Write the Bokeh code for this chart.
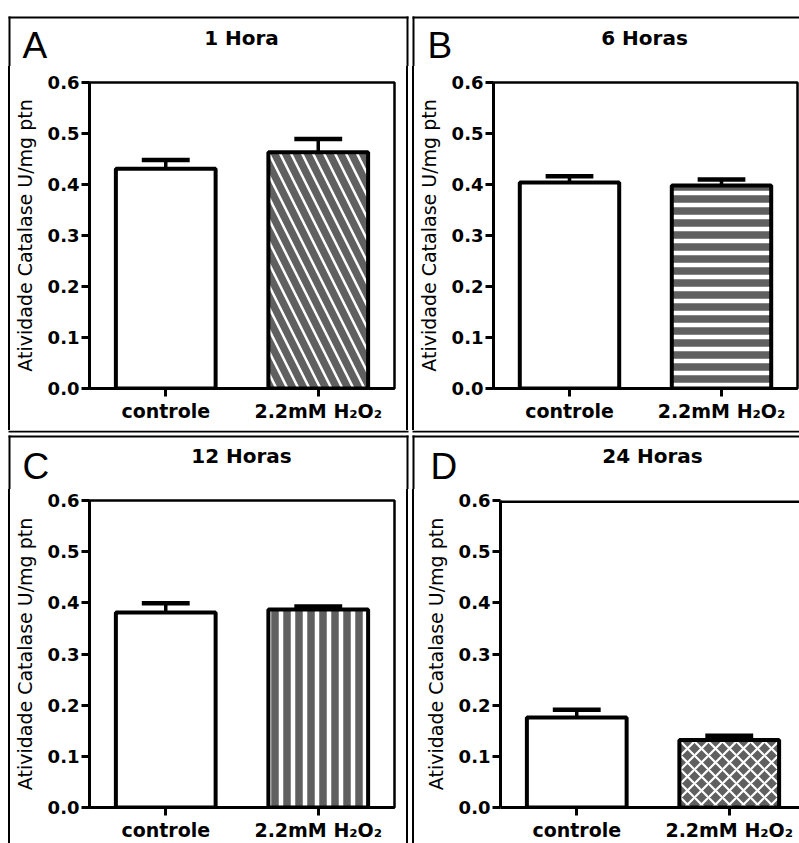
from bokeh.plotting import figure
from bokeh.models import Range1d, FixedTicker, Span, ColumnDataSource, Spacer
from bokeh.layouts import row, column
from bokeh.core.properties import value
from bokeh.embed import file_html
from bokeh.resources import INLINE

# ---- data -------------------------------------------------------------
categories = ["controle", "2.2mM H\u2082O\u2082"]
cat_pos = [1, 2]
panel_letters = ["A", "B", "C", "D"]
panel_titles = ["1 Hora", "6 Horas", "12 Horas", "24 Horas"]
mean_1h = [0.431, 0.463]
sem_1h = [0.017, 0.026]
mean_6h = [0.404, 0.398]
sem_6h = [0.012, 0.012]
mean_12h = [0.381, 0.387]
sem_12h = [0.018, 0.006]
mean_24h = [0.176, 0.132]
sem_24h = [0.015, 0.008]
y_ticks = [0.0, 0.1, 0.2, 0.3, 0.4, 0.5, 0.6]
y_label = "Atividade Catalase U/mg ptn"
hatches = ["\\", "-", "|", "x"]

FONT = "DejaVu Sans"
BAR_W = 0.654
CAP_W = 0.314
TOTAL_W = 799


def chart(means, sems, hatch, W, H, mb, x_end, outline=True):
    p = figure(width=W, height=H, output_backend="svg", toolbar_location=None,
               x_range=Range1d(0.5, x_end), y_range=Range1d(0, 0.6),
               min_border_left=mb[0], min_border_right=mb[1],
               min_border_top=mb[2], min_border_bottom=mb[3],
               background_fill_color="white", border_fill_color="white")
    p.xgrid.visible = False
    p.ygrid.visible = False
    if outline:
        p.outline_line_color = "black"
        p.outline_line_width = 2.5
        p.outline_line_alpha = 1.0
    else:
        p.outline_line_color = None
        p.add_layout(Span(location=0.6, dimension="width", line_color="black",
                          line_width=5))

    hs = {"\\": (22, 2.5), "-": (12, 4.5), "|": (12, 4.5), "x": (14, 2.2)}[hatch]
    src = ColumnDataSource(dict(x=cat_pos, top=means, fill=["white", "#606060"],
                                pat=[" ", hatch]))
    p.vbar(x="x", top="top", bottom=0, width=BAR_W, source=src,
           fill_color="fill", line_color="black", line_width=4,
           hatch_pattern="pat", hatch_color="white",
           hatch_scale=hs[0], hatch_weight=hs[1])

    tops = [m + s for m, s in zip(means, sems)]
    esrc = ColumnDataSource(dict(x=cat_pos, y0=means, y1=tops,
                                 xl=[c - CAP_W / 2 for c in cat_pos],
                                 xr=[c + CAP_W / 2 for c in cat_pos]))
    p.segment(x0="x", y0="y0", x1="x", y1="y1", source=esrc,
              line_color="black", line_width=3.5)
    p.segment(x0="xl", y0="y1", x1="xr", y1="y1", source=esrc,
              line_color="black", line_width=4.5)

    for ax in (p.xaxis[0], p.yaxis[0]):
        ax.axis_line_width = 3
        ax.axis_line_color = "black"
        ax.major_tick_line_width = 3
        ax.major_tick_line_color = "black"
        ax.major_tick_out = 8
        ax.major_tick_in = 0
        ax.minor_tick_line_color = None
        ax.major_label_text_font = FONT
        ax.major_label_text_font_style = "bold"
        ax.major_label_text_color = "black"

    p.yaxis.ticker = FixedTicker(ticks=y_ticks)
    p.yaxis.major_label_overrides = {t: f"{t:.1f}" for t in y_ticks}
    p.yaxis.major_label_text_font_size = "18px"
    p.yaxis.major_label_standoff = 2
    p.yaxis.axis_label = y_label
    p.yaxis.axis_label_text_font = FONT
    p.yaxis.axis_label_text_font_style = "normal"
    p.yaxis.axis_label_text_font_size = "19px"
    p.yaxis.axis_label_text_color = "black"
    p.yaxis.axis_label_standoff = 9

    p.xaxis.ticker = FixedTicker(ticks=cat_pos)
    p.xaxis.major_label_overrides = {c: n for c, n in zip(cat_pos, categories)}
    p.xaxis.major_label_text_font_size = "19px"
    p.xaxis.major_label_standoff = 3
    return p


def strip(W, H, boxes, letters, letter_pos, titles, title_pos):
    s = figure(width=W, height=H, output_backend="svg", toolbar_location=None,
               x_range=Range1d(0, W), y_range=Range1d(H, 0),
               x_axis_location=None, y_axis_location=None, min_border=0,
               outline_line_color=None, background_fill_color="white",
               border_fill_color="white")
    s.xgrid.visible = False
    s.ygrid.visible = False
    l, r, t, b = zip(*boxes)
    s.quad(left=list(l), right=list(r), top=list(t), bottom=list(b),
           fill_color="black", line_color=None)
    s.text(x=[q[0] for q in letter_pos], y=[q[1] for q in letter_pos], text=letters,
           text_font=value("Liberation Sans"), text_font_size=value("37px"),
           text_align="left", text_baseline="alphabetic", text_color="black")
    s.text(x=[q[0] for q in title_pos], y=[q[1] for q in title_pos], text=titles,
           text_font=value(FONT), text_font_style="bold", text_font_size=value("20px"),
           text_align="center", text_baseline="alphabetic", text_color="black")
    return s


def vline(H):
    return Spacer(width=2, height=H, styles={"background-color": "black"})


def gap(w, H):
    return Spacer(width=w, height=H)


# ---- layout geometry (pixels) -----------------------------------------
H1, H2 = 364, 354          # chart rows
S1, S2 = 66, 59            # strips above each row
WL, WR = 396, 385          # chart widths left / right column

pA = chart(mean_1h, sem_1h, hatches[0], WL, H1, (78, 12, 16, 42), 2.5)
pB = chart(mean_6h, sem_6h, hatches[1], WR, H1, (77, 2, 16, 42), 2.5)
pC = chart(mean_12h, sem_12h, hatches[2], WL, H2, (79, 12, 11, 36), 2.5)
pD = chart(mean_24h, sem_24h, hatches[3], WR, H2, (86, 0, 11, 36),
           0.5 + 299 / 152.5, outline=False)

top_strip = strip(
    TOTAL_W, S1,
    boxes=[(8, 408, 16, 18), (412, TOTAL_W, 16, 18),
           (8, 10, 16, S1), (406, 408, 16, S1), (412, 414, 16, S1)],
    letters=panel_letters[:2], letter_pos=[(22, 45), (427, 45)],
    titles=panel_titles[:2], title_pos=[(241, 37), (644, 37)])

mid_strip = strip(
    TOTAL_W, S2,
    boxes=[(8, 408, 0, 2), (412, TOTAL_W, 0, 2),
           (8, 408, 5, 7), (412, TOTAL_W, 5, 7),
           (8, 10, 5, S2), (406, 408, 5, S2), (412, 414, 5, S2)],
    letters=panel_letters[2:], letter_pos=[(22, 36), (430, 36)],
    titles=panel_titles[2:], title_pos=[(241, 25), (652, 25)])

row1 = row(gap(8, H1), vline(H1), pA, vline(H1), gap(4, H1), vline(H1), pB)
row2 = row(gap(8, H2), vline(H2), pC, vline(H2), gap(4, H2), vline(H2), pD)

layout = column(top_strip, row1, mid_strip, row2)
open("out.html", "w").write(file_html(layout, INLINE))
